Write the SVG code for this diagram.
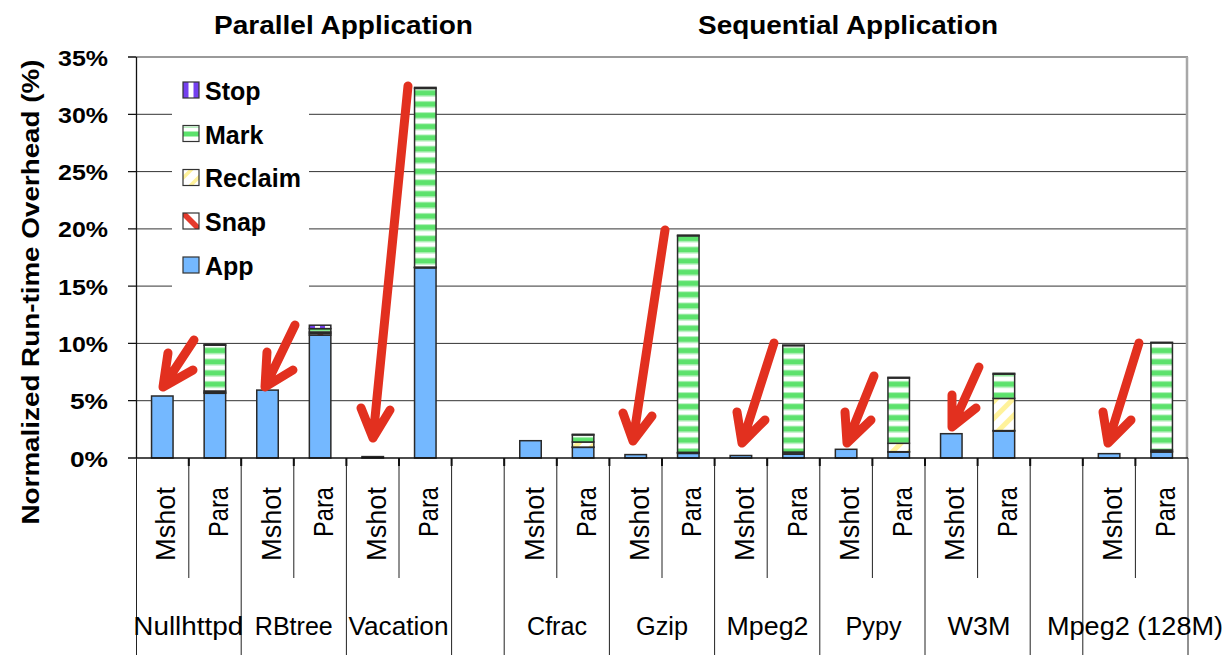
<svg xmlns="http://www.w3.org/2000/svg" width="1225" height="655" viewBox="0 0 1225 655">
  <style>
    text { font-family: "Liberation Sans", Arial, sans-serif; fill: #000; }
    .title { font-size: 25px; font-weight: bold; text-anchor: middle; }
    .tick { font-size: 22px; font-weight: bold; text-anchor: end; }
    .ytitle { font-size: 24px; font-weight: bold; text-anchor: middle; }
    .leg { font-size: 25px; font-weight: bold; }
    .cat { font-size: 25px; text-anchor: middle; }
    .sub { font-size: 27px; text-anchor: end; }
    .grid { stroke: #333; stroke-width: 1; }
    .axis { stroke: #111; stroke-width: 1.3; fill: none; }
    .sep { stroke: #222; stroke-width: 1; }
    .seg { stroke: #2a2a2a; stroke-width: 1.5; }
    .app { fill: #74b8ff; }
    .snap { fill: url(#pSnap); }
    .recl { fill: url(#pRecl); }
    .mark { fill: url(#pMark); }
    .stop { fill: url(#pStop); }
    .icon { stroke: #333; stroke-width: 1.2; }
    .arrow { stroke: #e2301f; stroke-width: 9; stroke-linecap: round; stroke-linejoin: round; fill: none; }
  </style>
  <defs>
    <pattern id="pMark" patternUnits="userSpaceOnUse" width="10" height="11.2">
      <rect width="10" height="11.2" fill="#fff"/>
      <rect y="0" width="10" height="1" fill="#b8f1bf"/>
      <rect y="1" width="10" height="5.2" fill="#5ce26c"/>
      <rect y="6.2" width="10" height="1" fill="#b8f1bf"/>
    </pattern>
    <pattern id="pRecl" patternUnits="userSpaceOnUse" width="12" height="12" patternTransform="rotate(45)">
      <rect width="12" height="12" fill="#fff"/>
      <rect width="5" height="12" fill="#fff29a"/>
    </pattern>
    <pattern id="pSnap" patternUnits="userSpaceOnUse" width="12" height="12" patternTransform="rotate(-45)">
      <rect width="12" height="12" fill="#fff"/>
      <rect width="4" height="12" fill="#e43a2c"/>
    </pattern>
    <pattern id="pStop" patternUnits="userSpaceOnUse" width="10" height="10">
      <rect width="10" height="10" fill="#fff"/>
      <rect width="5" height="10" fill="#7440ee"/>
    </pattern>
  </defs>

  <rect width="1225" height="655" fill="#fff"/>

  <!-- headings -->
  <text class="title" x="343.5" y="34" textLength="259" lengthAdjust="spacingAndGlyphs">Parallel Application</text>
  <text class="title" x="848" y="34" textLength="300" lengthAdjust="spacingAndGlyphs">Sequential Application</text>

  <!-- horizontal gridlines -->
  <g id="grid">
    <line class="grid" x1="136" y1="400.7" x2="1187" y2="400.7"/>
    <line class="grid" x1="136" y1="343.4" x2="1187" y2="343.4"/>
    <line class="grid" x1="136" y1="286.1" x2="1187" y2="286.1"/>
    <line class="grid" x1="136" y1="228.9" x2="1187" y2="228.9"/>
    <line class="grid" x1="136" y1="171.6" x2="1187" y2="171.6"/>
    <line class="grid" x1="136" y1="114.3" x2="1187" y2="114.3"/>
    <line x1="136" y1="57" x2="1188" y2="57" stroke="#9a9a9a" stroke-width="2"/>
    <line x1="1187" y1="57" x2="1187" y2="458" stroke="#a8a8a8" stroke-width="2.5"/>
  </g>

  <!-- value axis -->
  <g id="value-axis">
    <line class="axis" x1="136.5" y1="57" x2="136.5" y2="458"/>
    <path class="axis" d="M128 458H136M128 400.7H136M128 343.4H136M128 286.1H136M128 228.9H136M128 171.6H136M128 114.3H136M128 57H136"/>
    <text class="tick" x="108" y="466.5" textLength="38" lengthAdjust="spacingAndGlyphs">0%</text>
    <text class="tick" x="108" y="409.2" textLength="38" lengthAdjust="spacingAndGlyphs">5%</text>
    <text class="tick" x="108" y="351.9" textLength="50" lengthAdjust="spacingAndGlyphs">10%</text>
    <text class="tick" x="108" y="294.6" textLength="50" lengthAdjust="spacingAndGlyphs">15%</text>
    <text class="tick" x="108" y="237.4" textLength="50" lengthAdjust="spacingAndGlyphs">20%</text>
    <text class="tick" x="108" y="180.1" textLength="50" lengthAdjust="spacingAndGlyphs">25%</text>
    <text class="tick" x="108" y="122.8" textLength="50" lengthAdjust="spacingAndGlyphs">30%</text>
    <text class="tick" x="108" y="65.5" textLength="50" lengthAdjust="spacingAndGlyphs">35%</text>
    <text class="ytitle" transform="translate(39,292) rotate(-90)" textLength="465" lengthAdjust="spacingAndGlyphs">Normalized Run-time Overhead (%)</text>
  </g>

  <!-- legend -->
  <g id="legend">
    <rect x="172" y="68" width="137" height="222" fill="#fff"/>
    <g id="legend-stop">
      <rect x="183" y="82" width="16" height="16" fill="#7440ee"/>
      <rect x="188.5" y="82" width="5" height="16" fill="#fff"/>
      <rect class="icon" x="183" y="82" width="16" height="16" fill="none"/>
      <text class="leg" x="205" y="100">Stop</text>
    </g>
    <g id="legend-mark">
      <rect x="183" y="125.5" width="16" height="16" fill="#fff"/>
      <rect x="183" y="126.5" width="16" height="1.5" fill="#b8f1bf"/>
      <rect x="183" y="131.5" width="16" height="5" fill="#5ce26c"/>
      <rect class="icon" x="183" y="125.5" width="16" height="16" fill="none"/>
      <text class="leg" x="205" y="143.7">Mark</text>
    </g>
    <g id="legend-reclaim">
      <rect x="183" y="169.5" width="16" height="16" fill="#fff"/>
      <polygon points="183,175.5 189,169.5 194,169.5 183,180.5" fill="#fff29a"/>
      <polygon points="188,185.5 199,174.5 199,179.5 193,185.5" fill="#fff29a"/>
      <rect class="icon" x="183" y="169.5" width="16" height="16" fill="none"/>
      <text class="leg" x="205" y="187.4">Reclaim</text>
    </g>
    <g id="legend-snap">
      <rect x="183" y="213" width="16" height="16" fill="#fff"/>
      <polygon points="183,213 187,213 199,225 199,229 195,229 183,217" fill="#e43a2c"/>
      <rect class="icon" x="183" y="213" width="16" height="16" fill="none"/>
      <text class="leg" x="205" y="231.1">Snap</text>
    </g>
    <g id="legend-app">
      <rect class="icon" x="183" y="257" width="16" height="16" fill="#74b8ff"/>
      <text class="leg" x="205" y="274.8">App</text>
    </g>
  </g>

  <!-- stacked bars: App, Snap, Reclaim, Mark, Stop from the bottom up -->
  <g id="bars">
    <g id="nullhttpd-mshot">
      <rect class="seg app" x="151.55" y="396" width="21.5" height="62"/>
    </g>
    <g id="nullhttpd-para">
      <rect class="seg app" x="204.15" y="393.3" width="21.5" height="64.7"/>
      <rect class="seg snap" x="204.15" y="392.4" width="21.5" height="0.9"/>
      <rect class="seg recl" x="204.15" y="391" width="21.5" height="1.4"/>
      <rect class="seg mark" x="204.15" y="345.2" width="21.5" height="45.8"/>
      <rect class="seg stop" x="204.15" y="344.4" width="21.5" height="0.8"/>
    </g>
    <g id="rbtree-mshot">
      <rect class="seg app" x="256.75" y="390.1" width="21.5" height="67.9"/>
    </g>
    <g id="rbtree-para">
      <rect class="seg app" x="309.35" y="335.1" width="21.5" height="122.9"/>
      <rect class="seg snap" x="309.35" y="333.4" width="21.5" height="1.7"/>
      <rect class="seg recl" x="309.35" y="332" width="21.5" height="1.4"/>
      <rect class="seg mark" x="309.35" y="328.6" width="21.5" height="3.4"/>
      <rect class="seg stop" x="309.35" y="325.2" width="21.5" height="3.4"/>
    </g>
    <g id="vacation-mshot">
      <rect class="seg app" x="361.95" y="456.6" width="21.5" height="1.4"/>
    </g>
    <g id="vacation-para">
      <rect class="seg app" x="414.55" y="267.8" width="21.5" height="190.2"/>
      <rect class="seg snap" x="414.55" y="267.5" width="21.5" height="0.3"/>
      <rect class="seg recl" x="414.55" y="267.1" width="21.5" height="0.4"/>
      <rect class="seg mark" x="414.55" y="88.4" width="21.5" height="178.7"/>
      <rect class="seg stop" x="414.55" y="87.4" width="21.5" height="1"/>
    </g>
    <g id="cfrac-mshot">
      <rect class="seg app" x="519.75" y="440.7" width="21.5" height="17.3"/>
    </g>
    <g id="cfrac-para">
      <rect class="seg app" x="572.35" y="447.35" width="21.5" height="10.65"/>
      <rect class="seg snap" x="572.35" y="447.1" width="21.5" height="0.25"/>
      <rect class="seg recl" x="572.35" y="442" width="21.5" height="5.1"/>
      <rect class="seg mark" x="572.35" y="434.9" width="21.5" height="7.1"/>
      <rect class="seg stop" x="572.35" y="434.3" width="21.5" height="0.6"/>
    </g>
    <g id="gzip-mshot">
      <rect class="seg app" x="624.95" y="454.6" width="21.5" height="3.4"/>
    </g>
    <g id="gzip-para">
      <rect class="seg app" x="677.55" y="453.4" width="21.5" height="4.6"/>
      <rect class="seg snap" x="677.55" y="452.85" width="21.5" height="0.55"/>
      <rect class="seg recl" x="677.55" y="452.3" width="21.5" height="0.55"/>
      <rect class="seg mark" x="677.55" y="235.8" width="21.5" height="216.5"/>
      <rect class="seg stop" x="677.55" y="235.1" width="21.5" height="0.7"/>
    </g>
    <g id="mpeg2-mshot">
      <rect class="seg app" x="730.15" y="455.5" width="21.5" height="2.5"/>
    </g>
    <g id="mpeg2-para">
      <rect class="seg app" x="782.75" y="454" width="21.5" height="4"/>
      <rect class="seg snap" x="782.75" y="453.8" width="21.5" height="0.2"/>
      <rect class="seg recl" x="782.75" y="452.1" width="21.5" height="1.7"/>
      <rect class="seg mark" x="782.75" y="345.6" width="21.5" height="106.5"/>
      <rect class="seg stop" x="782.75" y="345.1" width="21.5" height="0.5"/>
    </g>
    <g id="pypy-mshot">
      <rect class="seg app" x="835.35" y="449.3" width="21.5" height="8.7"/>
    </g>
    <g id="pypy-para">
      <rect class="seg app" x="887.95" y="452" width="21.5" height="6"/>
      <rect class="seg snap" x="887.95" y="451.7" width="21.5" height="0.3"/>
      <rect class="seg recl" x="887.95" y="443.3" width="21.5" height="8.4"/>
      <rect class="seg mark" x="887.95" y="378" width="21.5" height="65.3"/>
      <rect class="seg stop" x="887.95" y="377.3" width="21.5" height="0.7"/>
    </g>
    <g id="w3m-mshot">
      <rect class="seg app" x="940.55" y="433.7" width="21.5" height="24.3"/>
    </g>
    <g id="w3m-para">
      <rect class="seg app" x="993.15" y="431" width="21.5" height="27"/>
      <rect class="seg snap" x="993.15" y="430.6" width="21.5" height="0.4"/>
      <rect class="seg recl" x="993.15" y="398.4" width="21.5" height="32.2"/>
      <rect class="seg mark" x="993.15" y="374.1" width="21.5" height="24.3"/>
      <rect class="seg stop" x="993.15" y="373.3" width="21.5" height="0.8"/>
    </g>
    <g id="mpeg2-128m-mshot">
      <rect class="seg app" x="1098.35" y="453.65" width="21.5" height="4.35"/>
    </g>
    <g id="mpeg2-128m-para">
      <rect class="seg app" x="1150.95" y="452" width="21.5" height="6"/>
      <rect class="seg snap" x="1150.95" y="451.5" width="21.5" height="0.5"/>
      <rect class="seg recl" x="1150.95" y="450" width="21.5" height="1.5"/>
      <rect class="seg mark" x="1150.95" y="342.9" width="21.5" height="107.1"/>
      <rect class="seg stop" x="1150.95" y="342.3" width="21.5" height="0.6"/>
    </g>
  </g>

  <!-- category axis and label table -->
  <g id="category-axis">
    <line class="axis" x1="136" y1="458" x2="1188" y2="458"/>
    <path class="sep" d="M136.5 458V655M241.2 458V655M346.4 458V655M451.6 458V655M504.2 458V655M609.4 458V655M714.6 458V655M819.8 458V655M925 458V655M1030.2 458V655M1082.8 458V655M1188 458V655"/>
    <path class="sep" d="M188.8 458V578M293.8 458V578M399 458V578M556.8 458V578M662 458V578M767.2 458V578M872.4 458V578M977.6 458V578M1135.4 458V578"/>
    <path stroke="#111" stroke-width="2" d="M188.8 458V466M241.2 458V466M293.8 458V466M346.4 458V466M399 458V466M451.6 458V466M504.2 458V466M556.8 458V466M609.4 458V466M662 458V466M714.6 458V466M767.2 458V466M819.8 458V466M872.4 458V466M925 458V466M977.6 458V466M1030.2 458V466M1082.8 458V466M1135.4 458V466"/>

    <text class="sub" transform="translate(175.3,487) rotate(-90)" textLength="74" lengthAdjust="spacingAndGlyphs">Mshot</text>
    <text class="sub" transform="translate(227.9,487) rotate(-90)" textLength="50" lengthAdjust="spacingAndGlyphs">Para</text>
    <text class="sub" transform="translate(280.5,487) rotate(-90)" textLength="74" lengthAdjust="spacingAndGlyphs">Mshot</text>
    <text class="sub" transform="translate(333.1,487) rotate(-90)" textLength="50" lengthAdjust="spacingAndGlyphs">Para</text>
    <text class="sub" transform="translate(385.7,487) rotate(-90)" textLength="74" lengthAdjust="spacingAndGlyphs">Mshot</text>
    <text class="sub" transform="translate(438.3,487) rotate(-90)" textLength="50" lengthAdjust="spacingAndGlyphs">Para</text>
    <text class="sub" transform="translate(543.5,487) rotate(-90)" textLength="74" lengthAdjust="spacingAndGlyphs">Mshot</text>
    <text class="sub" transform="translate(596.1,487) rotate(-90)" textLength="50" lengthAdjust="spacingAndGlyphs">Para</text>
    <text class="sub" transform="translate(648.7,487) rotate(-90)" textLength="74" lengthAdjust="spacingAndGlyphs">Mshot</text>
    <text class="sub" transform="translate(701.3,487) rotate(-90)" textLength="50" lengthAdjust="spacingAndGlyphs">Para</text>
    <text class="sub" transform="translate(753.9,487) rotate(-90)" textLength="74" lengthAdjust="spacingAndGlyphs">Mshot</text>
    <text class="sub" transform="translate(806.5,487) rotate(-90)" textLength="50" lengthAdjust="spacingAndGlyphs">Para</text>
    <text class="sub" transform="translate(859.1,487) rotate(-90)" textLength="74" lengthAdjust="spacingAndGlyphs">Mshot</text>
    <text class="sub" transform="translate(911.7,487) rotate(-90)" textLength="50" lengthAdjust="spacingAndGlyphs">Para</text>
    <text class="sub" transform="translate(964.3,487) rotate(-90)" textLength="74" lengthAdjust="spacingAndGlyphs">Mshot</text>
    <text class="sub" transform="translate(1016.9,487) rotate(-90)" textLength="50" lengthAdjust="spacingAndGlyphs">Para</text>
    <text class="sub" transform="translate(1122.1,487) rotate(-90)" textLength="74" lengthAdjust="spacingAndGlyphs">Mshot</text>
    <text class="sub" transform="translate(1174.7,487) rotate(-90)" textLength="50" lengthAdjust="spacingAndGlyphs">Para</text>

    <text class="cat" x="188.3" y="635" textLength="110" lengthAdjust="spacingAndGlyphs">Nullhttpd</text>
    <text class="cat" x="293.8" y="635" textLength="78" lengthAdjust="spacingAndGlyphs">RBtree</text>
    <text class="cat" x="398.5" y="635" textLength="100" lengthAdjust="spacingAndGlyphs">Vacation</text>
    <text class="cat" x="557" y="635" textLength="60" lengthAdjust="spacingAndGlyphs">Cfrac</text>
    <text class="cat" x="662" y="635" textLength="52" lengthAdjust="spacingAndGlyphs">Gzip</text>
    <text class="cat" x="767.5" y="635" textLength="82" lengthAdjust="spacingAndGlyphs">Mpeg2</text>
    <text class="cat" x="873.5" y="635" textLength="56" lengthAdjust="spacingAndGlyphs">Pypy</text>
    <text class="cat" x="979" y="635" textLength="63" lengthAdjust="spacingAndGlyphs">W3M</text>
    <text class="cat" x="1135" y="635" textLength="176" lengthAdjust="spacingAndGlyphs">Mpeg2 (128M)</text>
  </g>

  <!-- pointer arrows onto the Mshot bars -->
  <g id="connectors">
    <path class="arrow" d="M194 340L163 387M168 353L163 387L193 370"/>
    <path class="arrow" d="M295 325L265 387M267 352L265 387L293 370"/>
    <path class="arrow" d="M408 86L373 438M361 408L373 438L390 410"/>
    <path class="arrow" d="M665 230L633 441M623 413L633 441L652 416"/>
    <path class="arrow" d="M774 343L742 443M737 412L742 443L765 420"/>
    <path class="arrow" d="M874 376L847 443M845 412L847 443L871 420"/>
    <path class="arrow" d="M979 367L952 427M952 395L952 427L976 408"/>
    <path class="arrow" d="M1139 343L1108 443M1103 412L1108 443L1131 420"/>
  </g>
</svg>
